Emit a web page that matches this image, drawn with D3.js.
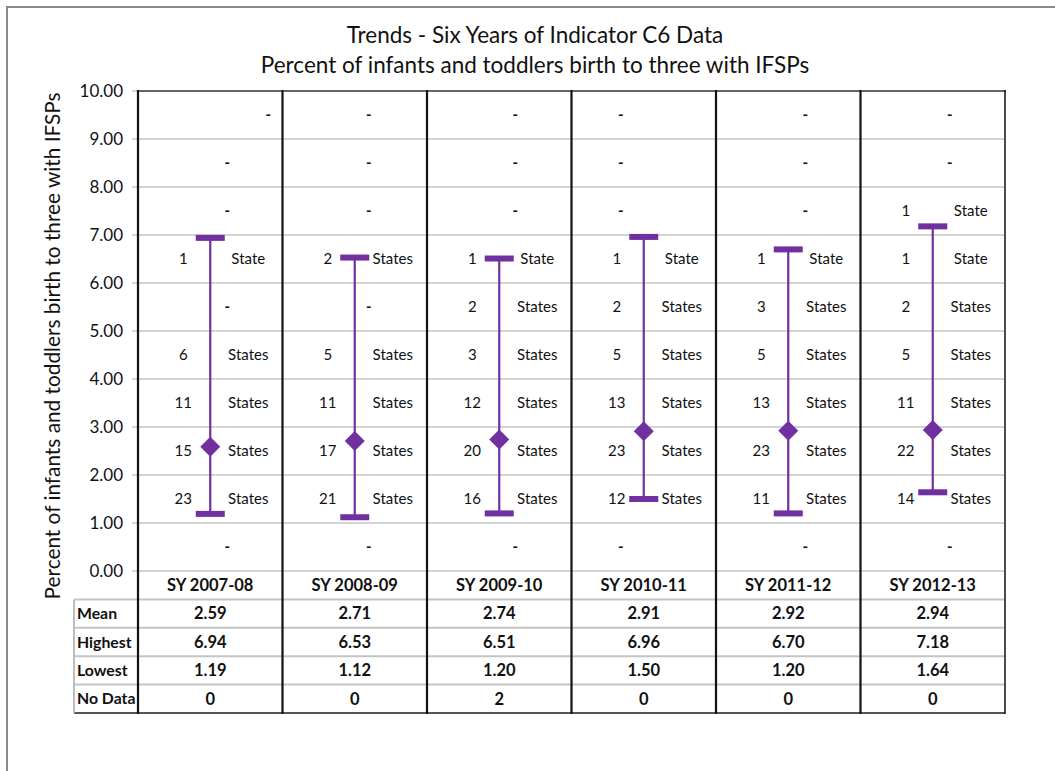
<!DOCTYPE html>
<html>
<head>
<meta charset="utf-8">
<script src="https://cdn.jsdelivr.net/npm/d3@7"></script>
<style>
  html, body { margin: 0; padding: 0; background: #fff; }
  svg { display: block; font-family: Lato, "Open Sans", sans-serif; }
</style>
</head>
<body>
<svg id="chart" width="1055" height="771"></svg>
<script>
// ---- data ----
const years = ["SY 2007-08", "SY 2008-09", "SY 2009-10", "SY 2010-11", "SY 2011-12", "SY 2012-13"];
const means = [2.59, 2.71, 2.74, 2.91, 2.92, 2.94];
const highs = [6.94, 6.53, 6.51, 6.96, 6.70, 7.18];
const lows = [1.19, 1.12, 1.20, 1.50, 1.20, 1.64];
const noData = [0, 0, 2, 0, 0, 0];
// lower bound of each one-point band, from top to bottom
const bands = [9, 8, 7, 6, 5, 4, 3, 2, 1, 0];
// number of states in each band (same order as bands), one list per year
const counts0708 = [0, 0, 0, 1, 0, 6, 11, 15, 23, 0];
const counts0809 = [0, 0, 0, 2, 0, 5, 11, 17, 21, 0];
const counts0910 = [0, 0, 0, 1, 2, 3, 12, 20, 16, 0];
const counts1011 = [0, 0, 0, 1, 2, 5, 13, 23, 12, 0];
const counts1112 = [0, 0, 0, 1, 3, 5, 13, 23, 11, 0];
const counts1213 = [0, 0, 1, 1, 2, 5, 11, 22, 14, 0];
const bandCounts = [counts0708, counts0809, counts0910, counts1011, counts1112, counts1213];
const yTicks = [0, 1, 2, 3, 4, 5, 6, 7, 8, 9, 10];
const rowLabels = ["Mean", "Highest", "Lowest", "No Data"];
const fmt = d3.format(".2f");
const tableRows = [means.map(fmt), highs.map(fmt), lows.map(fmt), noData.map(String)];

// ---- layout ----
const svg = d3.select("#chart");
const purple = "#7030A0";
const x = d3.scaleBand().domain(years).range([138, 1005]).padding(0);
const y = d3.scaleLinear().domain([0, 10]).range([571, 91]);
const rowY = d3.scaleBand().domain(["cat"].concat(rowLabels)).range([571, 713]);
const rowLeft = 74;

// outer frame
svg.append("path").attr("d", "M7,771 L7,7 L1055,7").attr("fill", "none")
  .attr("stroke", "#8a8a8a").attr("stroke-width", 2);

// titles
const title = svg.append("text").attr("text-anchor", "middle").attr("fill", "#111").attr("font-size", 22.5);
title.append("tspan").attr("x", 535).attr("y", 43).text("Trends - Six Years of Indicator C6 Data");
title.append("tspan").attr("x", 535).attr("y", 73).text("Percent of infants and toddlers birth to three with IFSPs");

// y axis title
svg.append("text").attr("transform", "translate(60,346) rotate(-90)").attr("text-anchor", "middle")
  .attr("font-size", 20.8).attr("fill", "#111")
  .text("Percent of infants and toddlers birth to three with IFSPs");

// gridlines
svg.append("g").selectAll("line").data(yTicks).join("line")
  .attr("x1", 132).attr("x2", 1005)
  .attr("y1", d => y(d)).attr("y2", d => y(d))
  .attr("stroke", "#d4d4d4").attr("stroke-width", 2);

// y axis labels
const yAxis = d3.axisLeft(y).tickValues(yTicks).tickFormat(fmt).tickSize(0).tickPadding(0);
const yg = svg.append("g").attr("transform", "translate(123,0)").call(yAxis);
yg.select(".domain").remove();
yg.selectAll("text").attr("font-size", 17).attr("fill", "#111").attr("font-family", "Lato, sans-serif");

// table horizontal lines
svg.append("g").selectAll("line").data(rowLabels.concat(["end"])).join("line")
  .attr("x1", rowLeft).attr("x2", 1005)
  .attr("y1", (d, i) => i < 4 ? rowY(d) : 713).attr("y2", (d, i) => i < 4 ? rowY(d) : 713)
  .attr("stroke", (d, i) => i < 4 ? "#c4c4c4" : "#555").attr("stroke-width", 2);
svg.append("line").attr("x1", rowLeft).attr("x2", rowLeft).attr("y1", rowY("Mean")).attr("y2", 713)
  .attr("stroke", "#bdbdbd").attr("stroke-width", 2);

// top border
svg.append("line").attr("x1", 138).attr("x2", 1006).attr("y1", 91).attr("y2", 91)
  .attr("stroke", "#666").attr("stroke-width", 2);

// column borders
const edges = years.map(d => x(d)).concat([x(years[years.length - 1]) + x.bandwidth()]);
svg.append("g").selectAll("line").data(edges).join("line")
  .attr("x1", d => d).attr("x2", d => d).attr("y1", 90).attr("y2", 714)
  .attr("stroke", "#111").attr("stroke-width", (d, i) => i === edges.length - 1 ? 1.5 : 2.2);

// category labels and table values
svg.append("g").selectAll("text").data(years).join("text")
  .attr("x", d => x(d) + x.bandwidth() / 2).attr("y", rowY("cat") + rowY.bandwidth() / 2)
  .attr("dy", "0.35em").attr("text-anchor", "middle").attr("font-weight", "bold")
  .attr("font-size", 16.5).attr("fill", "#111").text(d => d);

svg.append("g").selectAll("text").data(rowLabels).join("text")
  .attr("x", rowLeft + 3).attr("y", d => rowY(d) + rowY.bandwidth() / 2)
  .attr("dy", "0.35em").attr("font-weight", "bold").attr("font-size", 15.8).attr("fill", "#111")
  .text(d => d);

tableRows.forEach((vals, r) => {
  svg.append("g").selectAll("text").data(vals).join("text")
    .attr("x", (d, i) => x(years[i]) + x.bandwidth() / 2)
    .attr("y", rowY(rowLabels[r]) + rowY.bandwidth() / 2)
    .attr("dy", "0.35em").attr("text-anchor", "middle").attr("font-weight", "bold")
    .attr("font-size", 16.5).attr("fill", "#111").text(d => d);
});

// band count labels
const dashShift = [17, 14, 16, -23, 17, 17];
bandCounts.forEach((cs, ci) => {
  const cx = x(years[ci]) + x.bandwidth() / 2;
  const g = svg.append("g").attr("font-size", 15).attr("fill", "#111");
  cs.forEach((c, bi) => {
    const yy = y(bands[bi] + 0.5);
    if (c === 0) {
      g.append("text").attr("x", cx + dashShift[ci] + (ci === 0 && bi === 0 ? 41 : 0)).attr("y", yy)
        .attr("dy", "0.35em").attr("text-anchor", "middle").attr("font-weight", "bold").text("-");
    } else {
      g.append("text").attr("x", cx - 27).attr("y", yy).attr("dy", "0.35em")
        .attr("text-anchor", "middle").text(c);
      g.append("text").attr("x", cx + 38).attr("y", yy).attr("dy", "0.35em")
        .attr("text-anchor", "middle").text(c === 1 ? "State" : "States");
    }
  });
});

// high-low lines
const marks = svg.append("g");
marks.selectAll("line").data(years).join("line")
  .attr("x1", d => x(d) + x.bandwidth() / 2).attr("x2", d => x(d) + x.bandwidth() / 2)
  .attr("y1", (d, i) => y(highs[i])).attr("y2", (d, i) => y(lows[i]))
  .attr("stroke", purple).attr("stroke-width", 2.2);
// caps
[highs, lows].forEach(vals => {
  marks.append("g").selectAll("rect").data(years).join("rect")
    .attr("x", d => x(d) + x.bandwidth() / 2 - 14.5).attr("width", 29)
    .attr("y", (d, i) => y(vals[i]) - 3).attr("height", 6)
    .attr("fill", purple);
});
// mean diamonds
const diamond = d3.symbol().type(d3.symbolSquare).size(200);
marks.append("g").selectAll("path").data(years).join("path")
  .attr("d", diamond)
  .attr("transform", (d, i) => `translate(${x(d) + x.bandwidth() / 2},${y(means[i])}) rotate(45)`)
  .attr("fill", purple);
</script>
</body>
</html>
